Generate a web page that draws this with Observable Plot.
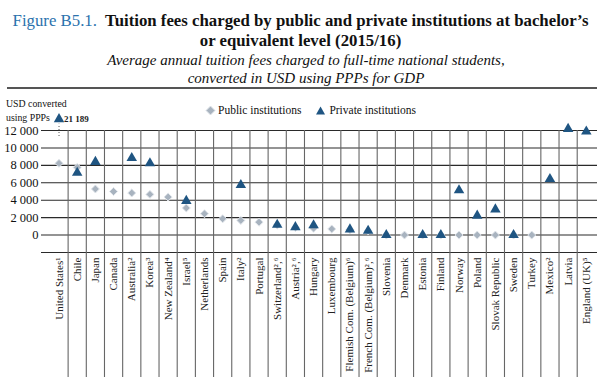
<!DOCTYPE html>
<html>
<head>
<meta charset="utf-8">
<script src="https://cdn.jsdelivr.net/npm/d3@7"></script>
<script src="https://cdn.jsdelivr.net/npm/@observablehq/plot@0.6"></script>
<style>
  body { margin: 0; background: #fff; }
  #wrap { width: 614px; position: relative; font-family: "Liberation Serif", serif; color: #111; }
  .head { height: 90px; position: relative; }
  .t1 { position: absolute; left: 0; width: 601px; top: 11px; text-align: center; font-size: 16.8px; line-height: 20px; font-weight: bold; white-space: nowrap; }
  .t1 .fig { color: #2b72ad; font-weight: normal; }
  .t2 { position: absolute; left: 0; width: 612px; top: 52.3px; text-align: center; font-style: italic; font-size: 15px; line-height: 17.3px; white-space: nowrap; }
  .rule { position: absolute; left: 7px; width: 590px; top: 87px; height: 2px; background: #555; }
  #chartwrap { position: relative; height: 293px; }
  .ylab { position: absolute; left: 6px; top: 7px; font-size: 9.8px; line-height: 13.5px; }
  .legend { position: absolute; top: 12px; left: 205px; font-size: 11.5px; line-height: 16px; display: flex; align-items: center; white-space: nowrap; }
  .legend svg { vertical-align: middle; }
</style>
</head>
<body>
<div id="wrap">
  <div class="head">
    <div class="t1"><span class="fig">Figure B5.1.</span>&nbsp; Tuition fees charged by public and private institutions at bachelor’s<br>or equivalent level (2015/16)</div>
    <div class="t2">Average annual tuition fees charged to full-time national students,<br>converted in USD using PPPs for GDP</div>
    <div class="rule"></div>
  </div>
  <div id="chartwrap">
    <div class="ylab">USD converted<br>using PPPs</div>
    <div class="legend">
      <svg width="11" height="11"><path d="M5.5,1 L10,5.5 L5.5,10 L1,5.5 Z" fill="#a8b3bf" stroke="#e2e6eb" stroke-width="1"/></svg>
      <span style="margin-left:2px">Public institutions</span>
      <svg width="11" height="11" style="margin-left:14px"><path d="M5.5,1.5 L10,9.5 L1,9.5 Z" fill="#1f5582"/></svg>
      <span style="margin-left:3px">Private institutions</span>
    </div>
  </div>
</div>
<script>
const categories = ["United States¹","Chile","Japan","Canada","Australia²","Korea³","New Zealand⁴","Israel⁵","Netherlands","Spain","Italy²","Portugal","Switzerland²,⁶","Austria²,⁶","Hungary","Luxembourg","Flemish Com. (Belgium)⁶","French Com. (Belgium)²,⁶","Slovenia","Denmark","Estonia","Finland","Norway","Poland","Slovak Republic","Sweden","Turkey","Mexico²","Latvia","England (UK)⁵"];
const publicFees = [8230,7760,5290,5000,4830,4670,4360,3110,2450,1870,1680,1480,1150,880,780,700,620,480,0,0,0,0,0,0,0,0,0,null,null,null];
const privateFees = [21189,7150,8400,null,8850,8240,null,3920,null,null,5740,null,1180,910,1120,null,650,490,0,null,0,0,5140,2230,2950,0,null,6430,12190,11880];
const yTicks = [0,2000,4000,6000,8000,10000,12000];
const yDomain = [-2000, 12000];
const gridValues = [-2000,0,2000,4000,6000,8000,10000,12000];
const offScaleCap = 13300; // display position for values beyond the axis

const fmt = d => String(d).replace(/\B(?=(\d{3})+(?!\d))/g, " ");
const pub = categories.map((c,i) => ({c, v: publicFees[i]})).filter(d => d.v != null);
const priv = categories.map((c,i) => ({c, v: privateFees[i], shown: Math.min(privateFees[i], offScaleCap), off: privateFees[i] > yDomain[1] + 5000})).filter(d => d.v != null);
const offScale = priv.filter(d => d.off);

function build(sepDx) {
  return Plot.plot({
    width: 614, height: 293,
    marginLeft: 41, marginRight: 17, marginTop: 40, marginBottom: 131,
    style: {fontFamily: "Liberation Serif, serif", fontSize: "11px", color: "#222", background: "transparent"},
    x: {type: "band", domain: categories, paddingInner: 0, paddingOuter: 0.29, align: 0.8, round: false, label: null},
    y: {domain: yDomain, label: null},
    marks: [
      Plot.ruleY(gridValues, {stroke: "#2a2a2a", strokeWidth: 1.1}),
      Plot.ruleX(categories.slice(1), {x: d => d, dx: sepDx, y1: yDomain[1], y2: yDomain[0], insetBottom: -125, stroke: "#666", strokeWidth: 1.1}),
      Plot.axisY({ticks: yTicks, tickSize: 0, tickPadding: 3, tickFormat: fmt, fontSize: 12.5, fill: "#111"}),
      Plot.axisX({tickRotate: -90, tickSize: 0, tickPadding: 5, fontSize: 11, fill: "#222"}),
      Plot.ruleX(offScale, {x: "c", y1: yDomain[1], y2: "shown", insetTop: 6, insetBottom: -5, stroke: "#555", strokeDasharray: "1,2"}),
      Plot.dot(pub, {x: "c", y: "v", symbol: "diamond2", r: 3.6, fill: "#a8b3bf", stroke: "#e2e6eb", strokeWidth: 1}),
      Plot.dot(priv, {x: "c", y: "shown", symbol: "triangle", r: 3.9, fill: "#1f5582"}),
      Plot.text(offScale, {x: "c", y: "shown", text: d => fmt(d.v), dx: 5, textAnchor: "start", fontSize: 9, fontWeight: "bold", fill: "#222"})
    ]
  });
}
const probe = build(0);
const bw = probe.scale("x").bandwidth;
const chart = build(-bw / 2);
document.getElementById("chartwrap").prepend(chart);
</script>
</body>
</html>
